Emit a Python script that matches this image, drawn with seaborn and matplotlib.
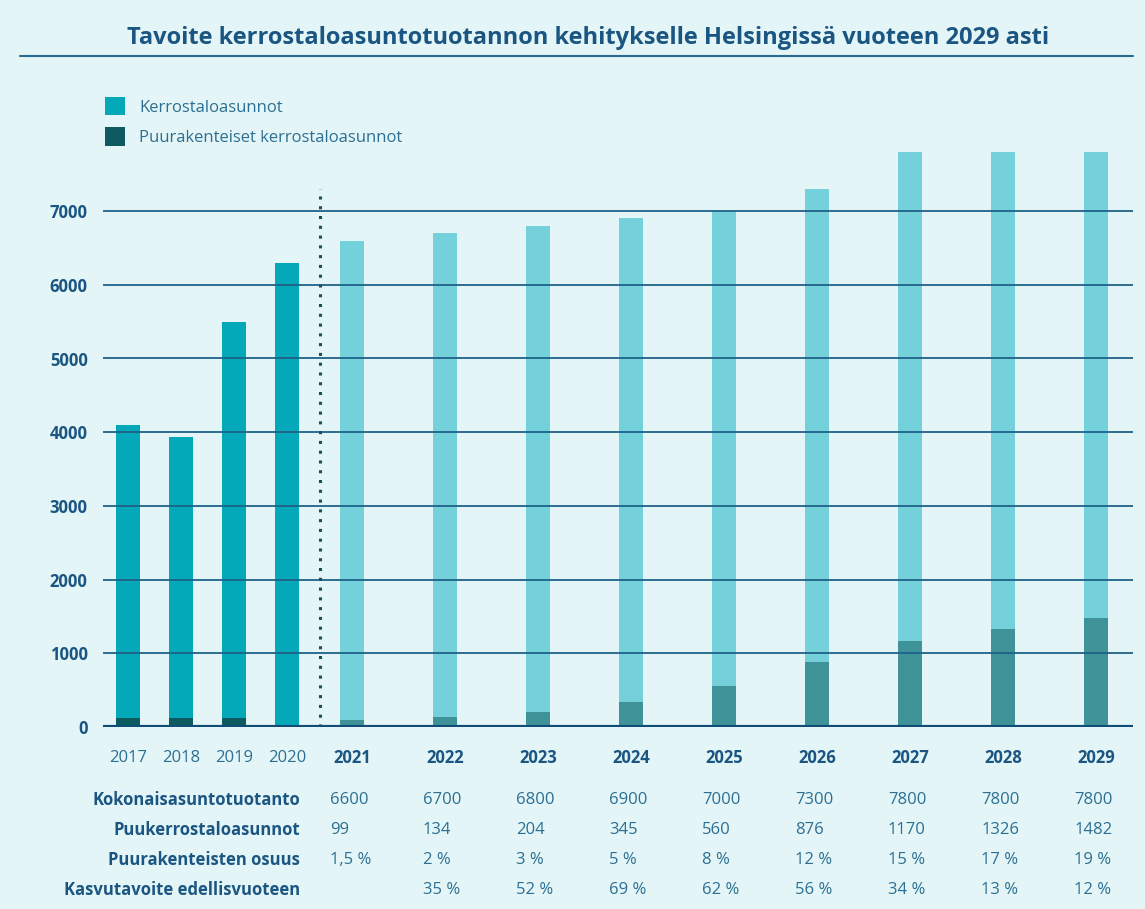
import matplotlib
matplotlib.use("Agg")
import matplotlib.pyplot as plt
from matplotlib.patches import Patch
from matplotlib import transforms
import seaborn as sns
import pandas as pd

# ---------------- data ----------------
years = ["2017", "2018", "2019", "2020", "2021", "2022", "2023", "2024",
         "2025", "2026", "2027", "2028", "2029"]
total = [4100, 3940, 5500, 6300, 6600, 6700, 6800, 6900, 7000, 7300, 7800, 7800, 7800]
wood = [120, 120, 120, 0, 99, 134, 204, 345, 560, 876, 1170, 1326, 1482]
period = ["toteutunut"] * 4 + ["tavoite"] * 9

row_labels = ["Kokonaisasuntotuotanto", "Puukerrostaloasunnot",
              "Puurakenteisten osuus", "Kasvutavoite edellisvuoteen"]
row_total = ["6600", "6700", "6800", "6900", "7000", "7300", "7800", "7800", "7800"]
row_wood = ["99", "134", "204", "345", "560", "876", "1170", "1326", "1482"]
row_share = ["1,5 %", "2 %", "3 %", "5 %", "8 %", "12 %", "15 %", "17 %", "19 %"]
row_growth = ["", "35 %", "52 %", "69 %", "62 %", "56 %", "34 %", "13 %", "12 %"]

title = "Tavoite kerrostaloasuntotuotannon kehitykselle Helsingissä vuoteen 2029 asti"
legend_labels = ["Kerrostaloasunnot", "Puurakenteiset kerrostaloasunnot"]

# ---------------- layout ----------------
W, H = 1145, 909
BG = "#e3f5f6"
C_HIST = "#03a9b8"
C_HIST_WOOD = "#0d5a60"
C_FUT = "#74d0da"
C_FUT_WOOD = "#3f9298"
GRID = "#1e6189"
TXT_DARK = "#1b5683"
TXT = "#2c6f93"

# x positions: historical years 1 unit apart, target years wider apart
pos = []
for i, p in enumerate(period):
    if p == "toteutunut":
        pos.append(float(i))
    else:
        pos.append(4.23 + 1.755 * (i - 4))

df = pd.DataFrame({"pos": pos, "total": total, "wood": wood, "period": period})

sns.set_theme(style="white")
plt.rcParams["font.family"] = ["Open Sans", "DejaVu Sans"]

fig = plt.figure(figsize=(W / 100, H / 100), dpi=100, facecolor=BG)
ax_left, ax_right = 103 / W, 1133 / W
ax_bottom = (H - 727) / H
ymax = 7900
ax_top_px = 727 - ymax * 0.0737
ax = fig.add_axes([ax_left, ax_bottom, ax_right - ax_left, (727 - ax_top_px) / H])
ax.set_facecolor(BG)

bw = 0.453
sns.barplot(data=df, x="pos", y="total", hue="period",
            palette={"toteutunut": C_HIST, "tavoite": C_FUT}, saturation=1,
            native_scale=True, dodge=False, width=bw, linewidth=0,
            legend=False, ax=ax, zorder=2)
sns.barplot(data=df, x="pos", y="wood", hue="period",
            palette={"toteutunut": C_HIST_WOOD, "tavoite": C_FUT_WOOD}, saturation=1,
            native_scale=True, dodge=False, width=bw, linewidth=0,
            legend=False, ax=ax, zorder=2)

x0 = -(128 - 103) / 53
x1 = (1133 - 128) / 53
ax.set_xlim(x0, x1)
ax.set_ylim(0, ymax)

# gridlines on top of the bars
for v in range(1000, 8000, 1000):
    ax.axhline(v, color=GRID, lw=1.3, zorder=3)
ax.axhline(0, color="#0f4d78", lw=3, zorder=4)

# dotted separator
ax.plot([3.62, 3.62], [0, 7300], color="#1d4d5a", lw=2.2,
        linestyle=(0, (1, 2.2)), zorder=3)

for s in ax.spines.values():
    s.set_visible(False)
ax.set_xlabel("")
ax.set_ylabel("")
ax.set_yticks(range(0, 8000, 1000))
ax.set_yticklabels([str(v) for v in range(0, 8000, 1000)], fontsize=12,
                   fontweight="bold", color=TXT_DARK)
ax.tick_params(axis="y", length=0, pad=11)
ax.set_xticks(pos)
ax.set_xticklabels([])
ax.tick_params(axis="x", length=0)

def fy(py):
    return (H - py) / H

tr = transforms.blended_transform_factory(ax.transData, fig.transFigure)
for p, y, per in zip(pos, years, period):
    if per == "toteutunut":
        ax.text(p, fy(758), y, transform=tr, ha="center", va="center",
                fontsize=12, color=TXT, clip_on=False)
    else:
        ax.text(p, fy(758), y, transform=tr, ha="center", va="center",
                fontsize=12, fontweight="bold", color=TXT_DARK, clip_on=False)

# table
rows = [row_total, row_wood, row_share, row_growth]
row_y = [800, 830, 860, 890]
fut_pos = pos[4:]
for lab, vals, py in zip(row_labels, rows, row_y):
    fig.text(300 / W, fy(py), lab, ha="right", va="center", fontsize=12,
             fontweight="bold", color=TXT_DARK)
    for p, v in zip(fut_pos, vals):
        ax.text(p - 0.42, fy(py), v, transform=tr, ha="left", va="center",
                fontsize=12, color=TXT, clip_on=False)

# title
fig.text(588 / W, fy(38), title, ha="center", va="center", fontsize=17,
         fontweight="bold", color=TXT_DARK)
fig.add_artist(plt.Line2D([20 / W, 1133 / W], [fy(56), fy(56)],
                          color="#2b6a90", lw=1.5))

# legend
handles = [Patch(facecolor=C_HIST, edgecolor="none"),
           Patch(facecolor=C_HIST_WOOD, edgecolor="none")]
fig.legend(handles, legend_labels, loc="upper left",
           bbox_to_anchor=(90 / W, fy(82)), frameon=False,
           handlelength=1.2, handleheight=1.3, handletextpad=0.85,
           labelspacing=0.7, fontsize=12, labelcolor=TXT)

fig.savefig("out.png", dpi=100, facecolor=BG)
